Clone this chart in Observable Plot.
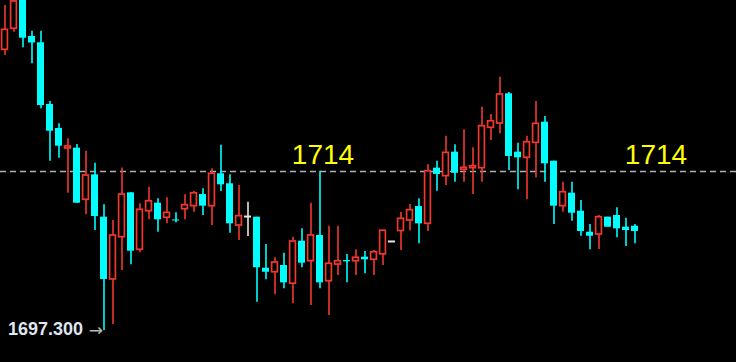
<!DOCTYPE html>
<html>
<head>
<meta charset="utf-8">
<script src="https://cdn.jsdelivr.net/npm/d3@7"></script>
<script src="https://cdn.jsdelivr.net/npm/@observablehq/plot@0.6"></script>
<style>
  html, body { margin: 0; padding: 0; background: #000; }
  #chart { width: 736px; height: 362px; overflow: hidden; }
</style>
</head>
<body>
<div id="chart"></div>
<script>
const open = [1726.78,1728.99,1734.00,1728.18,1727.52,1721.04,1718.52,1716.42,1716.45,1711.03,
  1713.65,1709.20,1702.66,1707.10,1711.76,1705.78,1709.83,1710.67,1709.14,1708.91,
  1710.04,1710.36,1711.58,1710.36,1713.76,1712.71,1708.33,1709.27,1709.20,1703.84,
  1703.42,1704.13,1702.21,1706.68,1704.58,1707.28,1702.48,1704.23,1704.65,1704.58,
  1705.00,1704.73,1705.30,1706.65,1707.75,1708.85,1710.32,1708.51,1714.35,1713.51,
  1716.03,1714.18,1714.35,1714.35,1718.59,1719.04,1722.16,1716.03,1715.44,1717.01,
  1719.18,1715.08,1710.36,1711.72,1709.83,1707.62,1707.38,1709.20,1709.38,1708.15,
  1708.25];
const high = [1731.43,1732.28,1734.50,1728.74,1728.74,1721.35,1719.01,1717.43,1716.84,1716.13,
  1714.87,1710.50,1708.85,1714.37,1711.76,1710.61,1712.35,1711.13,1711.24,1709.66,
  1711.55,1711.90,1712.18,1714.28,1716.76,1713.65,1712.53,1710.78,1709.20,1706.33,
  1704.94,1705.42,1707.10,1707.98,1710.67,1714.03,1708.25,1708.25,1705.28,1705.78,
  1705.60,1705.70,1707.78,1706.65,1709.69,1710.53,1711.13,1714.70,1715.08,1717.71,
  1716.80,1718.38,1716.49,1720.75,1719.99,1723.90,1722.30,1716.97,1717.71,1721.35,
  1719.78,1715.08,1712.88,1712.88,1710.95,1708.43,1709.38,1709.20,1710.19,1709.10,
  1708.43];
const low = [1726.18,1728.63,1726.99,1725.31,1720.59,1715.08,1715.40,1711.72,1710.64,1709.45,
  1707.80,1697.30,1697.93,1703.60,1704.20,1705.46,1708.93,1707.62,1708.51,1708.61,
  1708.93,1709.73,1709.38,1708.33,1711.90,1707.52,1706.75,1707.17,1700.27,1702.63,
  1701.05,1701.68,1700.10,1703.89,1699.93,1701.68,1698.88,1703.08,1702.31,1703.08,
  1703.26,1703.08,1704.13,1706.65,1705.70,1707.75,1706.41,1707.70,1711.93,1712.53,
  1712.88,1712.88,1711.58,1712.88,1717.26,1717.96,1714.11,1712.08,1711.03,1713.34,
  1712.88,1708.43,1709.73,1708.78,1707.20,1705.78,1705.81,1708.15,1707.04,1706.12,
  1706.41];
const close = [1728.88,1731.86,1728.00,1727.50,1720.93,1718.23,1716.66,1716.63,1710.67,1713.58,
  1709.27,1702.66,1707.28,1711.58,1705.63,1709.98,1710.88,1708.93,1709.66,1708.80,
  1710.46,1711.72,1710.36,1713.76,1712.60,1708.51,1709.31,1709.27,1703.89,1703.42,
  1704.44,1702.31,1706.65,1704.37,1707.28,1702.31,1704.31,1704.58,1704.52,1704.94,
  1704.73,1705.52,1707.78,1706.65,1709.03,1709.94,1708.51,1714.03,1713.69,1715.96,
  1713.82,1714.39,1714.56,1718.76,1719.28,1722.09,1715.58,1715.44,1717.08,1719.01,
  1714.81,1710.36,1711.83,1709.62,1707.70,1707.20,1709.20,1708.15,1707.98,1707.80,
  1707.70];

const levelValue = 1714;
const levelLabels = ["1714", "1714"];
const levelLabelSlots = [35, 72];
const lowLabel = "1697.300";
const lowLabelSlot = 11;
const slotCount = 82;

const UP = "#f0392e", DOWN = "#00ffff", FLAT = "#e6e6e6";

const candles = open.map((o, i) => ({i, open: o, high: high[i], low: low[i], close: close[i]}));
const colorOf = d => d.close > d.open ? UP : d.close < d.open ? DOWN : FLAT;
const lowCandle = candles.find(d => d.i === lowLabelSlot);

const chart = Plot.plot({
  width: 736,
  height: 362,
  margin: 0,
  style: {background: "#000", overflow: "hidden"},
  x: {type: "band", domain: d3.range(slotCount), range: [0, slotCount * 9], padding: 0, axis: null},
  y: {domain: [1693.94, 1731.96], range: [362, 0], axis: null},
  color: {type: "identity"},
  marks: [
    Plot.ruleY([levelValue], {stroke: "#b0b0b0", strokeWidth: 1.5, strokeDasharray: "6,4"}),
    Plot.ruleX(candles, {x: "i", y1: "low", y2: "high", stroke: colorOf, strokeWidth: 1.6, clip: true}),
    Plot.barY(candles.filter(d => d.close < d.open),
      {x: "i", y1: "open", y2: "close", fill: DOWN, insetLeft: 1, insetRight: 1, clip: true}),
    Plot.barY(candles.filter(d => d.close > d.open),
      {x: "i", y1: "open", y2: "close", fill: "#000", stroke: UP, strokeWidth: 1.7,
       insetLeft: 1.6, insetRight: 1.6, clip: true}),
    Plot.tickY(candles.filter(d => d.close === d.open),
      {x: "i", y: "close", stroke: FLAT, strokeWidth: 2, insetLeft: 1, insetRight: 1}),
    Plot.text(levelLabels.map((t, k) => ({t, slot: levelLabelSlots[k]})),
      {x: "slot", y: () => levelValue, text: "t", fill: "#ffff00", fontSize: 28,
       fontFamily: "Liberation Sans, Arial, sans-serif", lineAnchor: "bottom", dy: -8, dx: 3}),
    Plot.text([lowCandle], {x: "i", y: "low", text: () => lowLabel, fill: "#dfe6f0",
       fontSize: 18, fontWeight: "bold", fontFamily: "Liberation Sans, Arial, sans-serif",
       textAnchor: "end", lineAnchor: "middle", dx: -21, dy: -1}),
    Plot.text([lowCandle], {x: "i", y: "low", text: () => "→", fill: "#b8b8b8",
       fontSize: 17, fontFamily: "DejaVu Sans, sans-serif",
       textAnchor: "end", lineAnchor: "middle", dx: -1})
  ]
});
document.getElementById("chart").appendChild(chart);
</script>
</body>
</html>
